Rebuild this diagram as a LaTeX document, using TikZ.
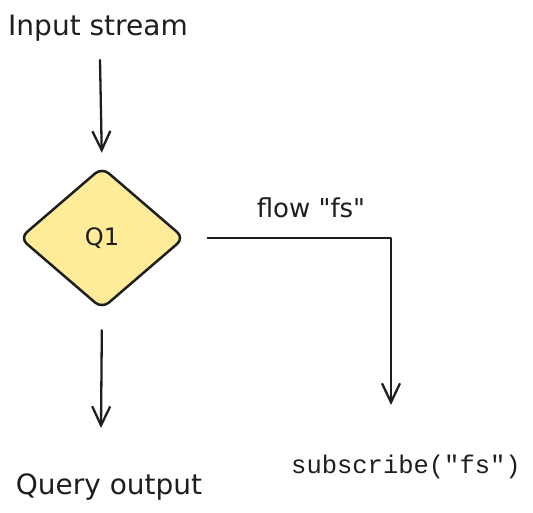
\documentclass[tikz,border=0pt]{standalone}
\usepackage{fontspec}
\setmainfont{DejaVu Sans}
\newfontfamily\codefont{Liberation Mono}
\usetikzlibrary{arrows.meta,shapes.geometric}
\definecolor{ink}{HTML}{1E1E1E}
\definecolor{qfill}{HTML}{FFEC99}

\begin{document}
\begin{tikzpicture}[x=1pt,y=-1pt,
  label text/.style={text=ink,font=\fontsize{28}{32}\selectfont,inner sep=0pt},
  arr/.style={draw=ink,line width=2.3pt,line cap=round,line join=round,
    -{Straight Barb[length=19pt,width=18pt,line width=2.3pt]}}]
\useasboundingbox (0,0) rectangle (533,513);
% Query node
\node[diamond,draw=ink,fill=qfill,line width=2.5pt,rounded corners=9pt,
  minimum width=165pt,minimum height=142pt,inner sep=0pt,
  text=ink,font=\fontsize{24}{28}\selectfont] (q1) at (102,238) {Q1};
% Labels
\node[label text] (input) at (98,28) {Input stream};
\node[label text] (output) at (109,487) {Query output};
\node[label text,font=\fontsize{26}{30}\selectfont] (flow) at (311,208)
  {flow \textquotedbl fs\textquotedbl};
\node[label text,font=\codefont\fontsize{25.5}{30}\selectfont] (sub) at (406,467)
  {subscribe("fs")};
% Free ends
\coordinate (intop) at (100,60);
\coordinate (outend) at (101,428);
\coordinate (fsend) at (391,405);
% Connectors
\draw[arr,shorten >=13pt] (intop) -- (q1.north);
\draw[arr,shorten <=20pt] (q1.south) -- (outend);
\draw[arr,shorten <=22pt] (q1.east) -| (fsend);
\end{tikzpicture}
\end{document}
